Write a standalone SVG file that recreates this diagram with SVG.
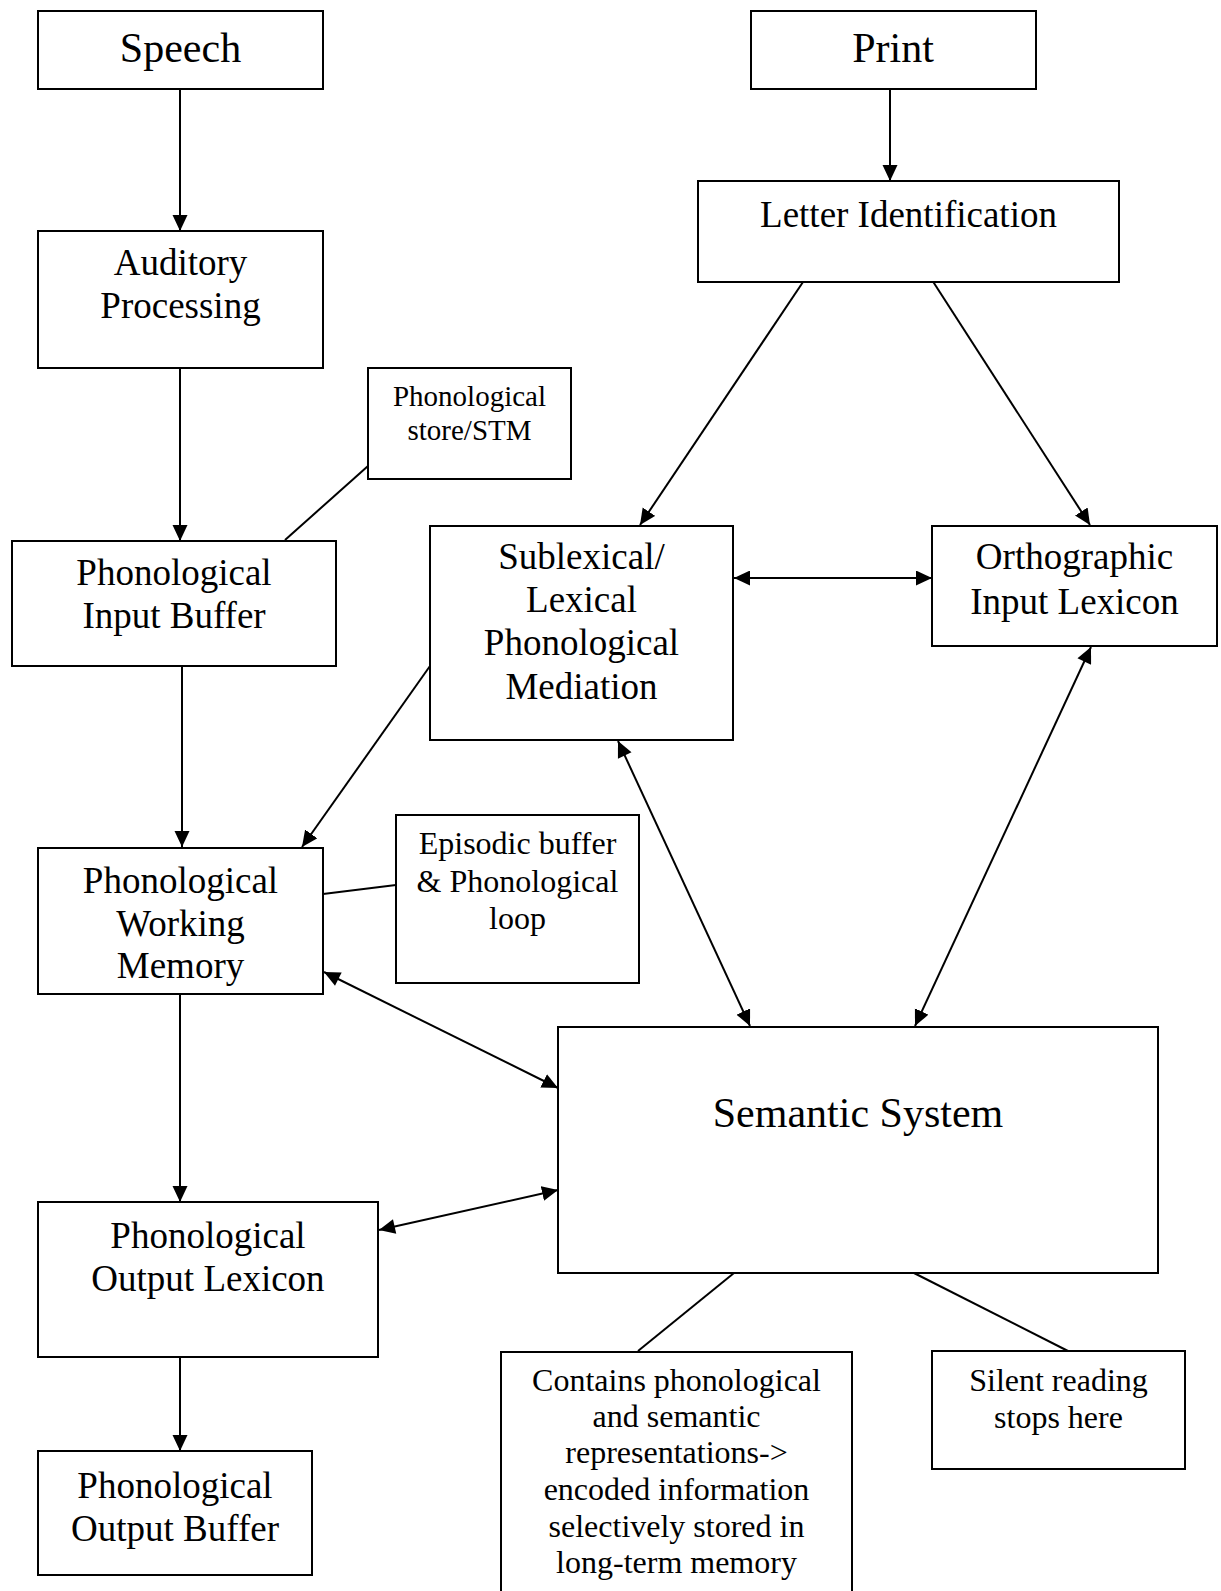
<svg xmlns="http://www.w3.org/2000/svg" width="1221" height="1591" viewBox="0 0 1221 1591">
  <style>
    .box { fill: #fff; stroke: #000; stroke-width: 2; }
    .t { font-family: "Liberation Serif", "Times New Roman", serif; fill: #000; text-anchor: middle; }
    .xl { font-size: 42px; }
    .lg { font-size: 37px; }
    .md { font-size: 32px; }
    .sm { font-size: 29px; }
    .edge { stroke: #000; stroke-width: 2; fill: none; }
    .arrow { marker-end: url(#head); }
    .both { marker-start: url(#tail); marker-end: url(#head); }
  </style>
  <defs>
    <marker id="head" markerUnits="userSpaceOnUse" markerWidth="18" markerHeight="16" refX="16" refY="7.5" orient="auto">
      <path d="M0,0 L16,7.5 L0,15 Z" fill="#000"/>
    </marker>
    <marker id="tail" markerUnits="userSpaceOnUse" markerWidth="18" markerHeight="16" refX="0" refY="7.5" orient="auto">
      <path d="M16,0 L0,7.5 L16,15 Z" fill="#000"/>
    </marker>
  </defs>
  <rect width="1221" height="1591" fill="#fff"/>

  <!-- connectors -->
  <g id="connectors">
    <line class="edge arrow" x1="180" y1="89" x2="180" y2="231"/>
    <line class="edge arrow" x1="180" y1="368" x2="180" y2="541"/>
    <line class="edge arrow" x1="182" y1="666" x2="182" y2="847"/>
    <line class="edge arrow" x1="180" y1="994" x2="180" y2="1202"/>
    <line class="edge arrow" x1="180" y1="1357" x2="180" y2="1451"/>
    <line class="edge arrow" x1="890" y1="89" x2="890" y2="181"/>
    <line class="edge arrow" x1="803" y1="282" x2="640" y2="525"/>
    <line class="edge arrow" x1="932" y1="280" x2="1090" y2="525"/>
    <line class="edge both" x1="734" y1="578" x2="932" y2="578"/>
    <line class="edge arrow" x1="430" y1="666" x2="302" y2="847"/>
    <line class="edge both" x1="618" y1="741" x2="750" y2="1026"/>
    <line class="edge both" x1="1091" y1="647" x2="915" y2="1026"/>
    <line class="edge both" x1="324" y1="972" x2="558" y2="1088"/>
    <line class="edge both" x1="379" y1="1230" x2="558" y2="1190"/>
    <line class="edge" x1="368" y1="466" x2="285" y2="540"/>
    <line class="edge" x1="323" y1="894" x2="396" y2="885"/>
    <line class="edge" x1="734" y1="1273" x2="638" y2="1351"/>
    <line class="edge" x1="914" y1="1273" x2="1068" y2="1351"/>
  </g>

  <g id="speech">
    <rect class="box" x="38" y="11" width="285" height="78"/>
    <text class="t xl" x="180.5" y="62">Speech</text>
  </g>
  <g id="print">
    <rect class="box" x="751" y="11" width="285" height="78"/>
    <text class="t xl" x="893" y="62">Print</text>
  </g>
  <g id="auditory-processing">
    <rect class="box" x="38" y="231" width="285" height="137"/>
    <text class="t lg" x="180.5" y="275">Auditory</text>
    <text class="t lg" x="180.5" y="318">Processing</text>
  </g>
  <g id="letter-identification">
    <rect class="box" x="698" y="181" width="421" height="101"/>
    <text class="t lg" x="908.5" y="227">Letter Identification</text>
  </g>
  <g id="phonological-store">
    <rect class="box" x="368" y="368" width="203" height="111"/>
    <text class="t sm" x="469.5" y="406">Phonological</text>
    <text class="t sm" x="469.5" y="440">store/STM</text>
  </g>
  <g id="phonological-input-buffer">
    <rect class="box" x="12" y="541" width="324" height="125"/>
    <text class="t lg" x="174" y="585">Phonological</text>
    <text class="t lg" x="174" y="628">Input Buffer</text>
  </g>
  <g id="sublexical-mediation">
    <rect class="box" x="430" y="526" width="303" height="214"/>
    <text class="t lg" x="581.5" y="569">Sublexical/</text>
    <text class="t lg" x="581.5" y="612">Lexical</text>
    <text class="t lg" x="581.5" y="655">Phonological</text>
    <text class="t lg" x="581.5" y="699">Mediation</text>
  </g>
  <g id="orthographic-input-lexicon">
    <rect class="box" x="932" y="526" width="285" height="120"/>
    <text class="t lg" x="1074.5" y="569">Orthographic</text>
    <text class="t lg" x="1074.5" y="614">Input Lexicon</text>
  </g>
  <g id="phonological-working-memory">
    <rect class="box" x="38" y="848" width="285" height="146"/>
    <text class="t lg" x="180.5" y="893">Phonological</text>
    <text class="t lg" x="180.5" y="936">Working</text>
    <text class="t lg" x="180.5" y="978">Memory</text>
  </g>
  <g id="episodic-buffer">
    <rect class="box" x="396" y="815" width="243" height="168"/>
    <text class="t md" x="517.5" y="854">Episodic buffer</text>
    <text class="t md" x="517.5" y="892">&amp; Phonological</text>
    <text class="t md" x="517.5" y="929">loop</text>
  </g>
  <g id="semantic-system">
    <rect class="box" x="558" y="1027" width="600" height="246"/>
    <text class="t xl" x="858" y="1127">Semantic System</text>
  </g>
  <g id="phonological-output-lexicon">
    <rect class="box" x="38" y="1202" width="340" height="155"/>
    <text class="t lg" x="208" y="1248">Phonological</text>
    <text class="t lg" x="208" y="1291">Output Lexicon</text>
  </g>
  <g id="phonological-output-buffer">
    <rect class="box" x="38" y="1451" width="274" height="124"/>
    <text class="t lg" x="175" y="1498">Phonological</text>
    <text class="t lg" x="175" y="1541">Output Buffer</text>
  </g>
  <g id="semantic-note">
    <rect class="box" x="501" y="1352" width="351" height="260"/>
    <text class="t md" x="676.5" y="1391">Contains phonological</text>
    <text class="t md" x="676.5" y="1427">and semantic</text>
    <text class="t md" x="676.5" y="1463">representations-&gt;</text>
    <text class="t md" x="676.5" y="1500">encoded information</text>
    <text class="t md" x="676.5" y="1537">selectively stored in</text>
    <text class="t md" x="676.5" y="1573">long-term memory</text>
  </g>
  <g id="silent-reading">
    <rect class="box" x="932" y="1351" width="253" height="118"/>
    <text class="t md" x="1058.5" y="1391">Silent reading</text>
    <text class="t md" x="1058.5" y="1428">stops here</text>
  </g>
</svg>
